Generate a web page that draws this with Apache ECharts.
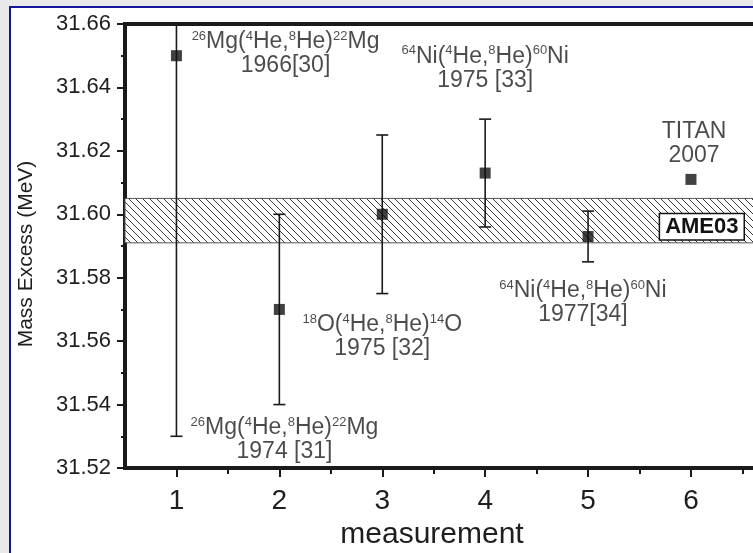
<!DOCTYPE html>
<html><head><meta charset="utf-8">
<script src="https://cdn.jsdelivr.net/npm/echarts@6/dist/echarts.min.js"></script>
<style>
html,body{margin:0;padding:0;background:#e9e9e9;}
#wrap{position:relative;width:753px;height:553px;overflow:hidden;background:#e9e9e9;}
#frame{position:absolute;left:9px;top:6px;width:800px;height:600px;border:2px solid #14149c;background:#fff;}
#chart{position:absolute;left:0;top:0;width:753px;height:553px;}
</style></head><body>
<div id="wrap"><div id="frame"></div><div id="chart"></div></div>
<script>
// ---- data ----
const measurement = [1, 2, 3, 4, 5, 6];
const massExcess  = [31.650, 31.570, 31.600, 31.613, 31.593, 31.611];
const uncertainty = [0.120, 0.030, 0.025, 0.017, 0.008, 0.0];
const ame03Low = 31.591;
const ame03High = 31.605;
const xTickLabels = [1, 2, 3, 4, 5, 6];
const xMinorTicks = [1.5, 2.5, 3.5, 4.5, 5.5, 6.5];
const yMin = 31.52, yMax = 31.66, yStep = 0.02;
// annotation anchors (data units) and texts
const annoX = [2.06, 4.0, 3.0, 4.95, 2.05, 6.03];
const annoY = [31.6505, 31.6460, 31.5614, 31.5722, 31.5290, 31.6222];
const annoText = [
  '{s|26}{n|Mg(}{s|4}{n|He,}{s|8}{n|He)}{s|22}{n|Mg}\n{n|1966[30]}',
  '{s|64}{n|Ni(}{s|4}{n|He,}{s|8}{n|He)}{s|60}{n|Ni}\n{n|1975 [33]}',
  '{s|18}{n|O(}{s|4}{n|He,}{s|8}{n|He)}{s|14}{n|O}\n{n|1975 [32]}',
  '{s|64}{n|Ni(}{s|4}{n|He,}{s|8}{n|He)}{s|60}{n|Ni}\n{n|1977[34]}',
  '{s|26}{n|Mg(}{s|4}{n|He,}{s|8}{n|He)}{s|22}{n|Mg}\n{n|1974 [31]}',
  '{n|TITAN}\n{n|2007}'
];
const bandLabel = 'AME03';

// ---- style ----
const FONT = '"Liberation Sans", Arial, Helvetica, sans-serif';
const INK = '#1a1a1a';
const TXT = '#1e1e1e';

const P = 7;
const pat = document.createElement('canvas');
pat.width = P; pat.height = P;
const pc = pat.getContext('2d');
pc.fillStyle = '#fff'; pc.fillRect(0, 0, P, P);
pc.strokeStyle = '#3a3a3a'; pc.lineWidth = 1;
pc.beginPath();
[-1, 0, 1].forEach(k => { pc.moveTo(k * P, 0); pc.lineTo(k * P + P, P); });
pc.stroke();

const chart = echarts.init(document.getElementById('chart'), null, {renderer: 'canvas'});

const option = {
  animation: false,
  backgroundColor: 'transparent',
  grid: {left: 125, top: 24, right: -10, bottom: 85, show: true, borderColor: INK, borderWidth: 4,
         backgroundColor: 'transparent', containLabel: false, outerBoundsMode: 'none'},
  xAxis: [{
    type: 'value', min: 0.5, max: 6.7, position: 'bottom',
    axisLine: {onZero: false, lineStyle: {color: INK, width: 4}},
    axisTick: {show: true, customValues: xTickLabels, length: 9, lineStyle: {color: INK, width: 2}},
    axisLabel: {customValues: xTickLabels, fontSize: 28, color: TXT, margin: 19, fontFamily: FONT},
    splitLine: {show: false},
    name: 'measurement', nameLocation: 'middle', nameGap: 45,
    nameTextStyle: {fontSize: 30, color: TXT, fontFamily: FONT, padding: [0, 24, 0, 0]}
  }, {
    type: 'value', min: 0.5, max: 6.7, position: 'bottom',
    axisLine: {show: false},
    axisTick: {show: true, customValues: xMinorTicks, length: 6, lineStyle: {color: INK, width: 2}},
    axisLabel: {show: false},
    splitLine: {show: false}
  }],
  yAxis: {
    type: 'value', min: yMin, max: yMax, interval: yStep,
    axisLine: {show: true, lineStyle: {color: INK, width: 4}},
    axisTick: {show: true, length: 8, lineStyle: {color: INK, width: 2}},
    minorTick: {show: true, splitNumber: 2, length: 4, lineStyle: {color: INK, width: 2}},
    axisLabel: {formatter: v => v.toFixed(2), fontSize: 22, color: TXT, margin: 14, fontFamily: FONT},
    splitLine: {show: false},
    name: 'Mass Excess (MeV)', nameLocation: 'middle', nameGap: 88,
    nameTextStyle: {fontSize: 21, color: TXT, fontFamily: FONT, padding: [0, 16, 0, 0]}
  },
  series: [{
    type: 'line', data: [], z: 1,
    markArea: {
      silent: true,
      itemStyle: {color: {image: pat, repeat: 'repeat'}, borderColor: '#555', borderWidth: 1, opacity: 1},
      label: {show: true, position: 'insideRight', formatter: bandLabel, fontSize: 22, fontWeight: 'bold',
              color: '#111', fontFamily: FONT, backgroundColor: '#fff', borderColor: '#111', borderWidth: 1.5,
              padding: [2, 5, 1, 5], offset: [-15, 6]},
      data: [[{yAxis: ame03Low}, {yAxis: ame03High}]]
    }
  }, {
    type: 'custom', z: 3, clip: true,
    encode: {x: 0, y: 1},
    data: measurement.map((x, i) => [x, massExcess[i], massExcess[i] - uncertainty[i], massExcess[i] + uncertainty[i]]),
    renderItem: function (params, api) {
      const x = api.value(0), lo = api.value(2), hi = api.value(3);
      if (hi - lo <= 0) return null;
      const a = api.coord([x, lo]), b = api.coord([x, hi]);
      const w = 6;
      const st = {stroke: INK, lineWidth: 1.6};
      return {type: 'group', children: [
        {type: 'line', shape: {x1: a[0], y1: a[1], x2: b[0], y2: b[1]}, style: st},
        {type: 'line', shape: {x1: a[0] - w, y1: a[1], x2: a[0] + w, y2: a[1]}, style: st},
        {type: 'line', shape: {x1: b[0] - w, y1: b[1], x2: b[0] + w, y2: b[1]}, style: st}
      ]};
    }
  }, {
    type: 'scatter', z: 4,
    symbol: 'rect', symbolSize: 11,
    itemStyle: {color: '#111'},
    data: measurement.map((x, i) => [x, massExcess[i]])
  }, {
    type: 'scatter', z: 5, silent: true,
    symbolSize: 1, itemStyle: {color: 'rgba(0,0,0,0)'},
    data: annoX.map((x, i) => ({value: [x, annoY[i]], label: {formatter: annoText[i]}})),
    label: {
      show: true, position: 'inside', align: 'center', verticalAlign: 'middle',
      rich: {
        n: {fontSize: 23, color: TXT, fontFamily: FONT, lineHeight: 24},
        s: {fontSize: 13, color: TXT, fontFamily: FONT, lineHeight: 10, verticalAlign: 'top'}
      }
    }
  }]
};
chart.setOption(option);
</script>
</body></html>
